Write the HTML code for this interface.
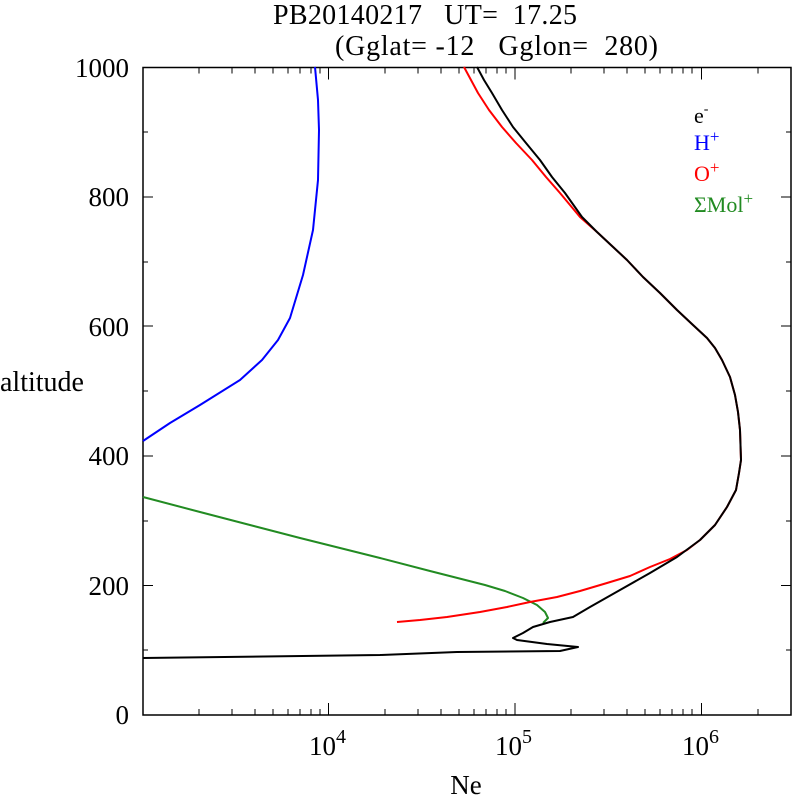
<!DOCTYPE html>
<html><head><meta charset="utf-8"><style>
html,body{margin:0;padding:0;background:#fff;width:792px;height:796px;overflow:hidden}
svg{display:block;font-family:"Liberation Serif",serif}
</style></head><body>
<svg width="792" height="796" viewBox="0 0 792 796" xmlns="http://www.w3.org/2000/svg">
<g font-size="27" fill="#000">
<text x="273" y="24" font-size="28" textLength="304" lengthAdjust="spacing" xml:space="preserve">PB20140217   UT=  17.25</text>
<text x="335" y="55" font-size="28" textLength="323" lengthAdjust="spacing" xml:space="preserve">(Gglat= -12   Gglon=  280)</text>
<text x="129" y="77" text-anchor="end">1000</text>
<text x="129" y="206" text-anchor="end">800</text>
<text x="129" y="336" text-anchor="end">600</text>
<text x="129" y="465" text-anchor="end">400</text>
<text x="129" y="595" text-anchor="end">200</text>
<text x="129" y="724" text-anchor="end">0</text>
<text x="0" y="391" font-size="28">altitude</text>
<text x="466" y="794" text-anchor="middle">Ne</text>
<text x="309" y="755">10<tspan font-size="20" dy="-12">4</tspan></text>
<text x="495" y="755">10<tspan font-size="20" dy="-12">5</tspan></text>
<text x="682" y="755">10<tspan font-size="20" dy="-12">6</tspan></text>
</g>
<g font-size="22">
<text x="694" y="123" fill="#000">e<tspan font-size="14" dy="-10">-</tspan></text>
<text x="694" y="150" fill="#0000ff">H<tspan font-size="17" dy="-8">+</tspan></text>
<text x="694" y="181" fill="#ff0000">O<tspan font-size="17" dy="-8">+</tspan></text>
<text x="694" y="212" fill="#228b22">ΣMol<tspan font-size="17" dy="-8">+</tspan></text>
</g>
<rect x="143" y="67.5" width="648" height="647.5" fill="none" stroke="#000" stroke-width="1.5"/>
<g stroke="#000" stroke-width="1">
<path d="M143 67.5h10M143 197h10M143 326h10M143 456h10M143 585.5h10M143 132h5M143 262h5M143 391h5M143 521h5M143 650h5
M791 67.5h-10M791 197h-10M791 326h-10M791 456h-10M791 585.5h-10M791 132h-5M791 262h-5M791 391h-5M791 521h-5M791 650h-5"/>
<path d="M199 715v-6M232 715v-6M255 715v-6M273 715v-6M288 715v-6M300 715v-6M311 715v-6M320 715v-6M328.5 715v-12
M385 715v-6M418 715v-6M441 715v-6M459 715v-6M474 715v-6M486 715v-6M497 715v-6M506 715v-6M515 715v-12
M571 715v-6M604 715v-6M627 715v-6M645 715v-6M660 715v-6M672 715v-6M683 715v-6M692 715v-6M701.5 715v-12M758 715v-6
M199 67.5v6M232 67.5v6M255 67.5v6M273 67.5v6M288 67.5v6M300 67.5v6M311 67.5v6M320 67.5v6M328.5 67.5v12
M385 67.5v6M418 67.5v6M441 67.5v6M459 67.5v6M474 67.5v6M486 67.5v6M497 67.5v6M506 67.5v6M515 67.5v12
M571 67.5v6M604 67.5v6M627 67.5v6M645 67.5v6M660 67.5v6M672 67.5v6M683 67.5v6M692 67.5v6M701.5 67.5v12M758 67.5v6"/>
</g>
<g fill="none" stroke-width="2" stroke-linejoin="round">
<polyline stroke="#0000ff" points="315,67 318,100 319,130 318,180 313,230 303,275 290,318 278,340 262,360 240,380 200,405 170,423 143,441"/>
<polyline stroke="#228b22" points="143,497 200,512 300,538 380,558 430,571 485,585 505,591 523,598 537,605 545,612 548,618 543,623"/>
<polyline stroke="#ff0000" points="464,67 471,80 478,93 489,110 502,127 516,143 532,160 546,177 560,193 580,217 597,232 612,246 627,260 643,277 660,293 677,310 693,325 707,338 715,348 722,360 730,377 735,395 738,412 740,430 741,460 739,473 736,490 727,507 715,525 700,540 687,550 670,559 650,567 630,576 607,583 580,591 557,597 530,602 507,607 480,612 447,617 420,620 397,622"/>
<polyline stroke="#000" points="477,67 484,80 492,93 502,110 513,127 526,143 540,160 552,177 565,193 582,217 597,232 612,246 627,260 643,277 660,293 677,310 693,325 707,338 715,348 722,360 730,377 735,395 738,412 740,430 741,460 739,473 736,490 727,507 715,525 700,540 677,557 650,573 620,590 590,607 573,617 550,622 533,627 523,633 513,638 517,640 547,644 578,647 560,651 457,652 380,655 143,658"/>
</g>
</svg>
</body></html>
